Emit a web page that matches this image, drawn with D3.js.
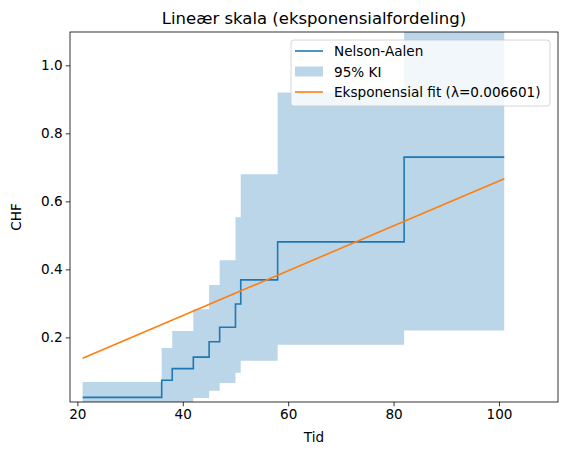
<!DOCTYPE html>
<html><head><meta charset="utf-8">
<script src="https://cdn.jsdelivr.net/npm/d3@7"></script>
<style>body{margin:0;background:#fff}text{font-family:"DejaVu Sans",sans-serif}</style>
</head><body><svg id="c" width="567" height="455"></svg>
<script>
const times = [21,36,38,42,45,47,50,51,58,82,101];
const naValues = [0.0235,0.074,0.108,0.142,0.187,0.230,0.298,0.369,0.481,0.73,0.73];
const ciUpper = [0.069,0.169,0.219,0.283,0.354,0.427,0.553,0.68,0.92,1.3,1.3];
const ciLower = [0,0,0,0.022,0.043,0.066,0.096,0.131,0.178,0.22,0.22];
const fitPoints = [[21,0.1386],[101,0.6667]];
const xTicks = [20,40,60,80,100];
const yTicks = [0.2,0.4,0.6,0.8,1.0];
const lambda = "0.006601";

const svg = d3.select("#c");
const L=70,R=558,T=32,B=402;
const x = d3.scaleLinear().domain([18.6,111.2]).range([L,R]);
const y = d3.scaleLinear().domain([0.01,1.098]).range([B,T]);
const blue="#1f77b4", orange="#ff7f0e";
const FS=13.6;

svg.append("clipPath").attr("id","cp").append("rect").attr("x",L).attr("y",T).attr("width",R-L).attr("height",B-T);
const g = svg.append("g").attr("clip-path","url(#cp)");
const pts = times.map((t,i)=>({t,v:naValues[i],u:ciUpper[i],l:ciLower[i]}));
g.append("path").datum(pts).attr("fill",blue).attr("fill-opacity",0.3)
 .attr("d",d3.area().curve(d3.curveStepAfter).x(d=>x(d.t)).y0(d=>y(d.l)).y1(d=>y(d.u)));
g.append("path").datum(pts).attr("fill","none").attr("stroke",blue).attr("stroke-width",1.6)
 .attr("d",d3.line().curve(d3.curveStepAfter).x(d=>x(d.t)).y(d=>y(d.v)));
g.append("path").datum(fitPoints).attr("fill","none").attr("stroke",orange).attr("stroke-width",1.6)
 .attr("d",d3.line().x(d=>x(d[0])).y(d=>y(d[1])));

const xa = svg.append("g").attr("transform",`translate(0,${B})`).call(d3.axisBottom(x).tickValues(xTicks).tickSize(4.3).tickPadding(3).tickFormat(d3.format("d")));
const ya = svg.append("g").attr("transform",`translate(${L},0)`).call(d3.axisLeft(y).tickValues(yTicks).tickSize(4.3).tickPadding(3).tickFormat(d3.format(".1f")));
[xa,ya].forEach(a=>{a.select(".domain").remove();a.selectAll("text").attr("font-size",FS).attr("fill","#000").attr("font-family","DejaVu Sans");a.selectAll("line").attr("stroke","#000").attr("stroke-width",0.8);});
svg.append("rect").attr("x",L).attr("y",T).attr("width",R-L).attr("height",B-T).attr("fill","none").attr("stroke","#000").attr("stroke-width",0.8);

svg.append("text").attr("x",(L+R)/2).attr("y",24).attr("text-anchor","middle").attr("font-size",16.5).text("Lineær skala (eksponensialfordeling)");
svg.append("text").attr("x",(L+R)/2).attr("y",442).attr("text-anchor","middle").attr("font-size",FS).text("Tid");
svg.append("text").attr("transform",`translate(21,${(T+B)/2}) rotate(-90)`).attr("text-anchor","middle").attr("font-size",FS).text("CHF");

const lg = svg.append("g");
lg.append("rect").attr("x",291).attr("y",40).attr("width",259).attr("height",66).attr("rx",3)
 .attr("fill","#fff").attr("fill-opacity",0.8).attr("stroke","#ccc").attr("stroke-width",0.8);
const items=[["Nelson-Aalen","line",blue],["95% KI","patch",blue],[`Eksponensial fit (λ=${lambda})`,"line",orange]];
items.forEach((it,i)=>{
  const cy=51+i*20.5;
  if(it[1]==="line") lg.append("line").attr("x1",295).attr("x2",323).attr("y1",cy).attr("y2",cy).attr("stroke",it[2]).attr("stroke-width",1.6);
  else lg.append("rect").attr("x",295).attr("y",cy-5).attr("width",28).attr("height",10).attr("fill",it[2]).attr("fill-opacity",0.3);
  lg.append("text").attr("x",334).attr("y",cy+5).attr("font-size",FS).text(it[0]);
});
</script></body></html>
